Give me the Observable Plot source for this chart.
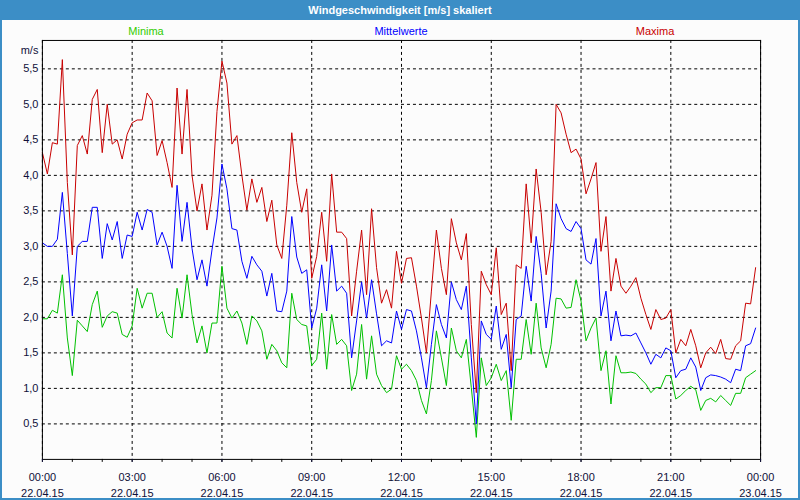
<!DOCTYPE html>
<html>
<head>
<meta charset="utf-8">
<script src="https://cdn.jsdelivr.net/npm/d3@7"></script>
<script src="https://cdn.jsdelivr.net/npm/@observablehq/plot@0.6"></script>
<style>
  html, body { margin: 0; padding: 0; background: #fcfcfc; }
  #wrap { position: relative; width: 800px; height: 500px; box-sizing: border-box;
          border: 2px solid #3c8ec6; border-top: none; background: #fcfcfc; overflow: hidden;
          font-family: "Liberation Sans", Arial, sans-serif; }
  #title { position: absolute; left: -2px; top: 0; width: 800px; height: 20px; background: #3c8ec6;
           color: #fff; font-weight: bold; font-size: 11px; line-height: 20px; text-align: center; }
  .leg { position: absolute; top: 25px; font-size: 11px; transform: translateX(-50%); white-space: nowrap; }
  #chart { position: absolute; left: -2px; top: 20px; }
</style>
</head>
<body>
<div id="wrap">
  <div id="title">Windgeschwindigkeit [m/s] skaliert</div>
  <div class="leg" style="left:144px;color:#33cc00">Minima</div>
  <div class="leg" style="left:399px;color:#0000ff">Mittelwerte</div>
  <div class="leg" style="left:653px;color:#c80000">Maxima</div>
  <div id="chart"></div>
</div>
<script>
// ---- data (10-minute values, 22.04.15 00:00 .. 23:50) ----
const startTime = Date.UTC(2015, 3, 22, 0, 0);
const stepMinutes = 10;
const maxima = [
  4.32,4.02,4.46,4.44,5.63,3.9,2.88,4.42,4.56,4.3,5.07,5.21,4.32,5.0,4.44,4.5,
  4.23,4.58,4.74,4.78,4.78,5.16,5.05,4.28,4.49,4.18,3.83,5.23,4.3,5.21,4.0,3.5,
  3.88,3.23,3.72,4.9,5.61,5.3,4.44,4.56,4.0,3.51,3.95,3.62,3.83,3.35,3.65,3.02,
  2.83,3.58,4.6,3.9,3.48,3.81,2.55,2.86,3.48,2.79,4.02,3.2,3.2,3.11,2.02,2.65,
  3.23,2.32,3.53,2.7,2.2,2.39,2.13,2.93,2.48,2.83,2.84,2.44,1.99,1.5,2.37,3.23,
  2.69,2.32,3.39,3.05,2.81,3.18,1.9,0.94,2.65,2.46,2.32,2.98,2.04,2.2,1.25,2.74,
  2.69,3.88,3.05,4.09,3.48,2.6,3.07,5.0,4.88,4.58,4.32,4.37,4.23,3.74,3.95,4.18,
  2.93,3.42,2.37,2.83,2.44,2.34,2.44,2.56,2.27,2.04,1.83,2.11,1.97,1.99,2.11,1.5,
  1.69,1.6,1.83,1.6,1.29,1.5,1.58,1.49,1.69,1.42,1.41,1.6,1.67,2.2,2.19,2.7
];
const mittel = [
  3.05,3.0,3.0,3.1,3.76,2.9,2.02,3.0,3.07,3.07,3.55,3.55,2.83,3.32,3.09,3.35,
  2.83,3.16,3.14,3.48,3.23,3.52,3.48,3.02,3.2,3.0,2.69,3.86,3.07,3.62,2.97,2.53,
  2.81,2.44,2.95,3.4,4.16,3.81,3.25,3.23,2.79,2.55,2.86,2.74,2.65,2.3,2.62,2.09,
  2.08,2.37,3.42,2.85,2.62,2.67,1.85,2.13,2.74,2.09,3.02,2.37,2.44,2.34,1.43,1.95,
  2.5,1.99,2.53,2.05,1.6,1.67,1.64,2.09,1.83,2.11,2.09,1.81,1.43,1.01,1.62,2.18,
  1.9,1.71,2.5,2.25,2.11,2.44,1.43,0.5,1.95,1.76,1.69,2.16,1.55,1.76,1.01,1.97,
  2.02,2.72,2.23,3.14,2.62,1.85,2.37,3.6,3.39,3.25,3.21,3.35,3.25,2.81,2.75,3.11,
  2.02,2.37,1.67,2.09,1.74,1.75,1.74,1.78,1.64,1.5,1.34,1.48,1.43,1.57,1.53,1.15,
  1.25,1.27,1.43,1.3,0.97,1.15,1.19,1.18,1.16,1.13,1.08,1.27,1.25,1.6,1.63,1.85
];
const minima = [
  1.98,1.98,2.1,2.06,2.6,1.71,1.18,1.96,1.88,1.8,2.18,2.37,1.86,2.02,2.08,2.06,
  1.76,1.72,1.88,2.41,2.13,2.34,2.34,2.0,2.08,1.78,1.71,2.41,1.99,2.6,2.04,1.64,
  1.88,1.5,1.92,1.92,2.72,2.13,1.99,2.09,1.92,1.62,2.02,1.95,1.81,1.41,1.62,1.53,
  1.36,1.29,2.34,1.97,1.9,1.88,1.32,1.41,2.06,1.27,2.04,1.62,1.69,1.6,0.97,1.2,
  1.9,1.13,1.74,1.2,1.04,0.94,0.99,1.46,1.27,1.34,1.25,1.11,0.83,0.64,1.11,1.81,
  1.43,1.04,1.85,1.53,1.43,1.69,1.01,0.31,1.43,1.04,1.15,1.34,1.11,1.25,0.55,1.41,
  1.41,1.97,1.48,2.2,1.57,1.29,1.62,2.27,2.26,2.13,2.14,2.53,2.23,1.67,1.85,1.99,
  1.25,1.53,0.78,1.46,1.22,1.22,1.23,1.21,1.13,1.06,0.94,1.01,1.01,1.18,1.18,0.85,
  0.9,0.97,1.03,0.98,0.69,0.83,0.86,0.81,0.9,0.83,0.76,0.93,0.93,1.15,1.2,1.25
];
const yTicks = [0.5, 1, 1.5, 2, 2.5, 3, 3.5, 4, 4.5, 5, 5.5];
const yUnit = "m/s";
const xStart = new Date(Date.UTC(2015, 3, 22, 0, 0));
const xEnd = new Date(Date.UTC(2015, 3, 23, 0, 0));

// ---- build ----
const toRows = (arr) => arr.map((v, i) => ({t: new Date(startTime + i * stepMinutes * 60000), v}));
const rowsMax = toRows(maxima), rowsMit = toRows(mittel), rowsMin = toRows(minima);
const majorX = d3.utcHour.every(3).range(xStart, new Date(+xEnd + 1));
const minorX = d3.utcHour.every(1).range(xStart, new Date(+xEnd + 1));
const fmtTime = d3.utcFormat("%H:%M");
const fmtDate = d3.utcFormat("%d.%m.%y");
const txt = "#10103a";

const chart = Plot.plot({
  width: 800, height: 480,
  marginLeft: 42, marginRight: 38, marginTop: 20, marginBottom: 40,
  style: {background: "transparent", fontFamily: "'Liberation Sans', Arial, sans-serif", fontSize: "11px", color: txt},
  x: {type: "utc", domain: [xStart, xEnd]},
  y: {domain: [0, 5.9]},
  marks: [
    Plot.gridY(yTicks, {stroke: "#000", strokeOpacity: 1, strokeDasharray: "3,3"}),
    Plot.gridX(majorX, {stroke: "#000", strokeOpacity: 1, strokeDasharray: "3,3"}),
    Plot.line(rowsMin, {x: "t", y: "v", stroke: "#00c000", strokeWidth: 1}),
    Plot.line(rowsMax, {x: "t", y: "v", stroke: "#c80000", strokeWidth: 1}),
    Plot.line(rowsMit, {x: "t", y: "v", stroke: "#0000ff", strokeWidth: 1}),
    Plot.frame({stroke: "#000", strokeWidth: 1}),
    Plot.axisY(yTicks, {tickSize: 0, tickPadding: 4, label: null, fill: txt, fontSize: 11,
      tickFormat: (d) => d3.format(".1f")(d).replace(".", ",")}),
    Plot.axisX(minorX, {tickSize: 3, text: null, label: null, stroke: "#000"}),
    Plot.axisX(majorX, {tickSize: 3, tickPadding: 7, label: null, fill: txt, fontSize: 11, lineHeight: 1.45,
      tickFormat: (d) => fmtTime(d) + "\n" + fmtDate(d)}),
    Plot.text([yUnit], {frameAnchor: "top-left", text: (d) => d, textAnchor: "end", dx: -4, dy: 6, fill: txt, fontSize: 11})
  ]
});
document.getElementById("chart").appendChild(chart);
</script>
</body>
</html>
